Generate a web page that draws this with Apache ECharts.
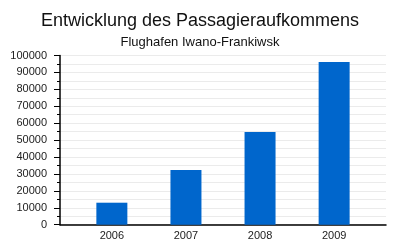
<!DOCTYPE html>
<html><head><meta charset="utf-8">
<script src="https://cdn.jsdelivr.net/npm/echarts@6/dist/echarts.min.js"></script>
<style>html,body{margin:0;padding:0;background:#fff}#c{width:400px;height:250px}</style>
</head><body><div id="c"></div>
<script>
var titleText = "Entwicklung des Passagieraufkommens";
var subtitleText = "Flughafen Iwano-Frankiwsk";
var years = [2006, 2007, 2008, 2009];
var passengers = [13000, 32300, 54800, 96200];
var yTicks = [0, 10000, 20000, 30000, 40000, 50000, 60000, 70000, 80000, 90000, 100000];

var chart = echarts.init(document.getElementById('c'), null, {renderer: 'canvas'});
var font = '"Liberation Sans", Arial, sans-serif';
chart.setOption({
  animation: false,
  backgroundColor: '#fff',
  title: [
    {text: titleText, left: 'center', top: 7, textStyle: {fontFamily: font, fontSize: 18, fontWeight: 'normal', color: '#111'}},
    {text: subtitleText, left: 'center', top: 31, textStyle: {fontFamily: font, fontSize: 13, fontWeight: 'normal', color: '#111'}}
  ],
  grid: {left: 60, right: 14, top: 55.5, bottom: 25.3, containLabel: false},
  xAxis: {
    type: 'value', min: 2005.3, max: 2009.7,
    axisLine: {show: true, onZero: false, lineStyle: {color: '#000', width: 1.5}},
    axisTick: {show: false},
    splitLine: {show: false},
    axisLabel: {customValues: years, formatter: function(v){return String(Math.round(v));}, fontFamily: font, fontSize: 11, color: '#222', margin: 6}
  },
  yAxis: {
    type: 'value', min: yTicks[0], max: yTicks[yTicks.length-1], interval: 10000,
    axisLine: {show: true, lineStyle: {color: '#000', width: 1.5}},
    axisTick: {show: true, length: 6, lineStyle: {color: '#000'}},
    minorTick: {show: true, splitNumber: 2, length: 3, lineStyle: {color: '#000'}},
    splitLine: {show: true, lineStyle: {color: '#ebebeb', width: 1}},
    minorSplitLine: {show: true, lineStyle: {color: '#ebebeb', width: 1}},
    axisLabel: {formatter: function(v){return String(v);}, fontFamily: font, fontSize: 11, color: '#222', margin: 13}
  },
  series: [{
    type: 'bar',
    data: years.map(function(y, i){return [y, passengers[i]];}),
    barWidth: 31,
    itemStyle: {color: '#0066cc'}
  }]
});
</script></body></html>
